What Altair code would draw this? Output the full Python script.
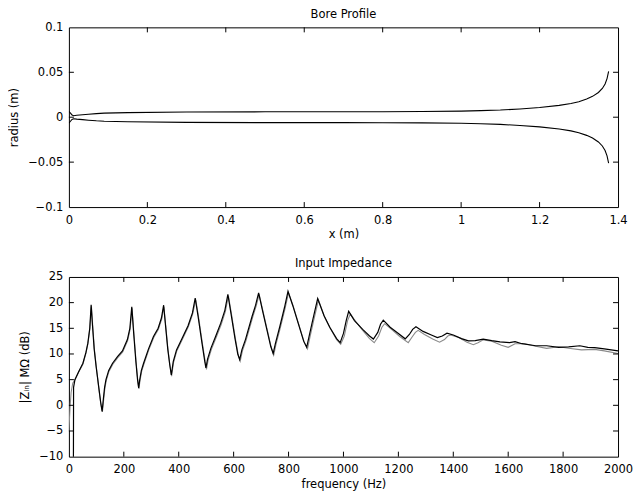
import altair as alt
import pandas as pd

# ---------------- data ----------------
# Bore profile: position along bore (m) and radius (m)
bore_x = [0.0, 0.004, 0.008, 0.012, 0.02, 0.035, 0.05, 0.07, 0.09, 0.15, 0.3, 0.5, 0.7, 0.8, 0.9,
          1.0, 1.05, 1.1, 1.15, 1.2, 1.25, 1.28, 1.3, 1.32, 1.335, 1.35, 1.36, 1.367, 1.372, 1.376]
bore_r = [0.0065, 0.0045, 0.0025, 0.0017, 0.0021, 0.0027, 0.0033, 0.004, 0.0045, 0.0051, 0.0058, 0.006, 0.006, 0.0061, 0.0063,
          0.0068, 0.0073, 0.008, 0.0092, 0.0108, 0.0132, 0.0152, 0.0172, 0.0202, 0.0232, 0.0275, 0.032, 0.037, 0.043, 0.051]

# Input impedance (dB), black (computed) curve
f_black = [15.5, 17, 22, 35, 51, 62, 69, 76, 81, 86, 92, 99, 110, 116, 121, 126, 130, 135, 145, 159, 177, 195, 213, 222,
           229, 236, 244, 250, 254, 258, 264, 272, 290, 308, 325, 337, 345, 352, 360, 367, 373, 380, 392, 412, 434, 450,
           460, 470, 485, 495, 499, 505, 517, 535, 553, 568, 579, 590, 605, 615, 622, 630, 643, 667, 680, 691, 705, 720,
           735, 744, 752, 768, 785, 798, 815, 835, 855, 866, 875, 888, 906, 929, 950, 975, 988, 1000, 1010, 1019, 1040,
           1070, 1095, 1109, 1125, 1135, 1145, 1170, 1200, 1225, 1240, 1252, 1264, 1290, 1320, 1342, 1360, 1377, 1400,
           1430, 1455, 1480, 1509, 1540, 1570, 1605, 1625, 1650, 1700, 1740, 1784, 1820, 1861, 1890, 1915, 1950, 2000]
z_black = [-40, 3.5, 5.0, 6.5, 8.2, 10.3, 12.1, 15.0, 19.6, 15.5, 11.0, 7.6, 3.0, 0.5, -1.2, 1.5, 3.5, 5.0, 6.8, 8.2, 9.5,
           10.6, 12.8, 15.0, 19.2, 14.0, 8.5, 5.0, 3.4, 5.0, 6.8, 8.2, 11.0, 13.4, 15.0, 17.0, 19.5, 15.5, 11.0, 8.0, 5.9,
           8.5, 10.8, 13.0, 15.5, 18.0, 20.9, 17.5, 12.0, 8.5, 7.3, 9.0, 11.1, 13.5, 16.0, 18.5, 21.6, 18.0, 13.0, 10.0,
           8.9, 10.8, 12.8, 17.3, 19.5, 21.9, 18.5, 15.0, 11.5, 10.1, 12.0, 15.3, 19.0, 22.2, 19.5, 16.0, 12.5, 11.3, 13.5,
           16.6, 20.8, 17.5, 15.2, 13.0, 12.2, 14.0, 16.5, 18.3, 16.5, 14.8, 13.5, 12.9, 14.2, 15.8, 16.6, 15.2, 14.0,
           12.95, 13.8, 14.8, 15.3, 14.4, 13.7, 13.2, 13.5, 14.05, 13.7, 13.0, 12.55, 12.6, 12.9, 12.6, 12.35, 12.2, 12.4,
           12.0, 11.6, 11.6, 11.3, 11.4, 11.6, 11.3, 11.25, 11.0, 10.6]

# Input impedance (dB), grey (measured) curve
f_grey = [0, 4, 8, 14, 22, 35, 51, 62, 69, 76, 82, 87, 93, 100, 110, 116, 122, 127, 131, 136, 146, 160, 178, 196, 214, 223,
          230, 237, 245, 251, 255, 259, 265, 273, 291, 309, 326, 338, 346, 353, 361, 368, 374, 381, 393, 413, 435, 451,
          462, 472, 487, 497, 501, 507, 519, 537, 555, 570, 581, 592, 607, 617, 624, 632, 645, 669, 682, 693, 707, 722,
          737, 746, 754, 770, 787, 800, 817, 837, 857, 869, 878, 891, 909, 931, 952, 975, 990, 1003, 1015, 1025, 1045,
          1070, 1095, 1112, 1128, 1140, 1150, 1175, 1205, 1236, 1250, 1262, 1272, 1295, 1325, 1350, 1368, 1380, 1390,
          1420, 1450, 1473, 1490, 1509, 1540, 1575, 1600, 1625, 1660, 1700, 1740, 1784, 1820, 1867, 1915, 1950, 2000]
z_grey = [-5.0, -0.5, 2.5, 4.3, 5.0, 6.4, 8.0, 10.1, 11.9, 14.8, 19.3, 15.3, 10.8, 7.4, 2.8, 0.3, -1.3, 1.3, 3.3, 4.8, 6.6,
          8.0, 9.3, 10.4, 12.6, 14.8, 18.9, 13.8, 8.3, 4.8, 3.2, 4.8, 6.6, 8.0, 10.8, 13.2, 14.8, 16.8, 19.2, 15.3, 10.8,
          7.8, 5.7, 8.3, 10.6, 12.8, 15.3, 17.8, 20.6, 17.3, 11.8, 8.3, 7.0, 8.8, 10.9, 13.3, 15.8, 18.3, 21.3, 17.8,
          12.8, 9.8, 8.6, 10.6, 12.6, 17.1, 19.3, 21.6, 18.3, 14.8, 11.3, 9.8, 11.8, 15.1, 18.8, 21.9, 19.3, 15.8, 12.3,
          11.0, 13.3, 16.4, 20.5, 17.2, 15.0, 12.8, 11.9, 13.5, 16.5, 17.8, 16.3, 14.6, 13.0, 12.2, 13.5, 15.2, 15.9,
          14.8, 13.4, 12.2, 13.3, 14.2, 14.6, 13.8, 12.9, 12.3, 12.8, 13.5, 13.7, 13.2, 12.3, 11.8, 12.2, 12.75, 12.5,
          11.7, 11.3, 12.0, 12.0, 11.5, 11.1, 11.4, 11.1, 10.8, 10.9, 10.6, 10.1]

bore_xticks = [0, 0.2, 0.4, 0.6, 0.8, 1, 1.2, 1.4]
bore_yticks = [-0.1, -0.05, 0, 0.05, 0.1]
imp_xticks = [0, 200, 400, 600, 800, 1000, 1200, 1400, 1600, 1800, 2000]
imp_yticks = [-10, -5, 0, 5, 10, 15, 20, 25]

# ---------------- build ----------------
W, H = 550, 180
FONT = "DejaVu Sans"
FS = 11.5
TL = 5  # inward tick length


def inner(vals):
    return vals[1:-1]


def ticks_layers(xvals, yvals, xscale, yscale, xaxis, yaxis):
    dx = pd.DataFrame({"v": inner(xvals)})
    dy = pd.DataFrame({"v": inner(yvals)})
    bx = alt.Chart(dx).mark_rule(color="black", strokeWidth=1).encode(
        x=alt.X("v:Q", scale=xscale, axis=xaxis), y=alt.value(H), y2=alt.value(H - TL))
    tx = alt.Chart(dx).mark_rule(color="black", strokeWidth=1).encode(
        x=alt.X("v:Q", scale=xscale, axis=xaxis), y=alt.value(0), y2=alt.value(TL))
    ly = alt.Chart(dy).mark_rule(color="black", strokeWidth=1).encode(
        y=alt.Y("v:Q", scale=yscale, axis=yaxis), x=alt.value(0), x2=alt.value(TL))
    ry = alt.Chart(dy).mark_rule(color="black", strokeWidth=1).encode(
        y=alt.Y("v:Q", scale=yscale, axis=yaxis), x=alt.value(W), x2=alt.value(W - TL))
    return [bx, tx, ly, ry]


def title(text):
    return alt.TitleParams(text, font=FONT, fontSize=FS, fontWeight="normal", color="black",
                           offset=1, frame="group", anchor="middle")


# Bore profile chart
bore_df = pd.concat([
    pd.DataFrame({"x": bore_x, "r": bore_r, "side": "upper"}),
    pd.DataFrame({"x": bore_x, "r": [-v for v in bore_r], "side": "lower"}),
])
bx_scale = alt.Scale(domain=[0, 1.4], nice=False, zero=False)
by_scale = alt.Scale(domain=[-0.1, 0.1], nice=False, zero=False)
bx_axis = alt.Axis(title="x (m)", values=bore_xticks, format="~g")
by_axis = alt.Axis(title="radius (m)", values=bore_yticks, format="~g")

bore_line = alt.Chart(bore_df).mark_line(color="black", strokeWidth=1.1, clip=True).encode(
    x=alt.X("x:Q", scale=bx_scale, axis=bx_axis),
    y=alt.Y("r:Q", scale=by_scale, axis=by_axis),
    detail="side:N",
    order="x:Q",
)
bore = alt.layer(bore_line, *ticks_layers(bore_xticks, bore_yticks, bx_scale, by_scale, bx_axis, by_axis)).properties(
    width=W, height=H, title=title("Bore Profile"),
)

# Impedance chart
ix_scale = alt.Scale(domain=[0, 2000], nice=False, zero=False)
iy_scale = alt.Scale(domain=[-10, 25], nice=False, zero=False)
ix_axis = alt.Axis(title="frequency (Hz)", values=imp_xticks, format="d")
iy_axis = alt.Axis(title="|Zᵢₙ| MΩ (dB)", values=imp_yticks, format="d")

grey_line = alt.Chart(pd.DataFrame({"f": f_grey, "z": z_grey})).mark_line(
    color="#8a8a8a", strokeWidth=1.1, clip=True).encode(
    x=alt.X("f:Q", scale=ix_scale, axis=ix_axis),
    y=alt.Y("z:Q", scale=iy_scale, axis=iy_axis),
    order="f:Q",
)
black_line = alt.Chart(pd.DataFrame({"f": f_black, "z": z_black})).mark_line(
    color="black", strokeWidth=1.2, clip=True).encode(
    x=alt.X("f:Q", scale=ix_scale, axis=ix_axis),
    y=alt.Y("z:Q", scale=iy_scale, axis=iy_axis),
    order="f:Q",
)
imp = alt.layer(grey_line, black_line, *ticks_layers(imp_xticks, imp_yticks, ix_scale, iy_scale, ix_axis, iy_axis)).properties(
    width=W, height=H, title=title("Input Impedance"),
)

chart = alt.vconcat(bore, imp, spacing=17).properties(
    padding={"left": 0, "top": 0, "right": 0, "bottom": 0},
).configure_view(
    stroke="black", strokeWidth=1,
).configure_axis(
    domain=False, ticks=False, grid=False,
    labelFont=FONT, labelFontSize=FS, labelColor="black",
    titleFont=FONT, titleFontSize=FS, titleFontWeight="normal", titleColor="black",
    labelFlush=False, labelOverlap=False,
).configure_axisX(
    labelPadding=7, titlePadding=3,
).configure_axisY(
    labelPadding=6, titlePadding=8,
)

chart.save("out.html", embed_options={"renderer": "svg", "actions": False})
